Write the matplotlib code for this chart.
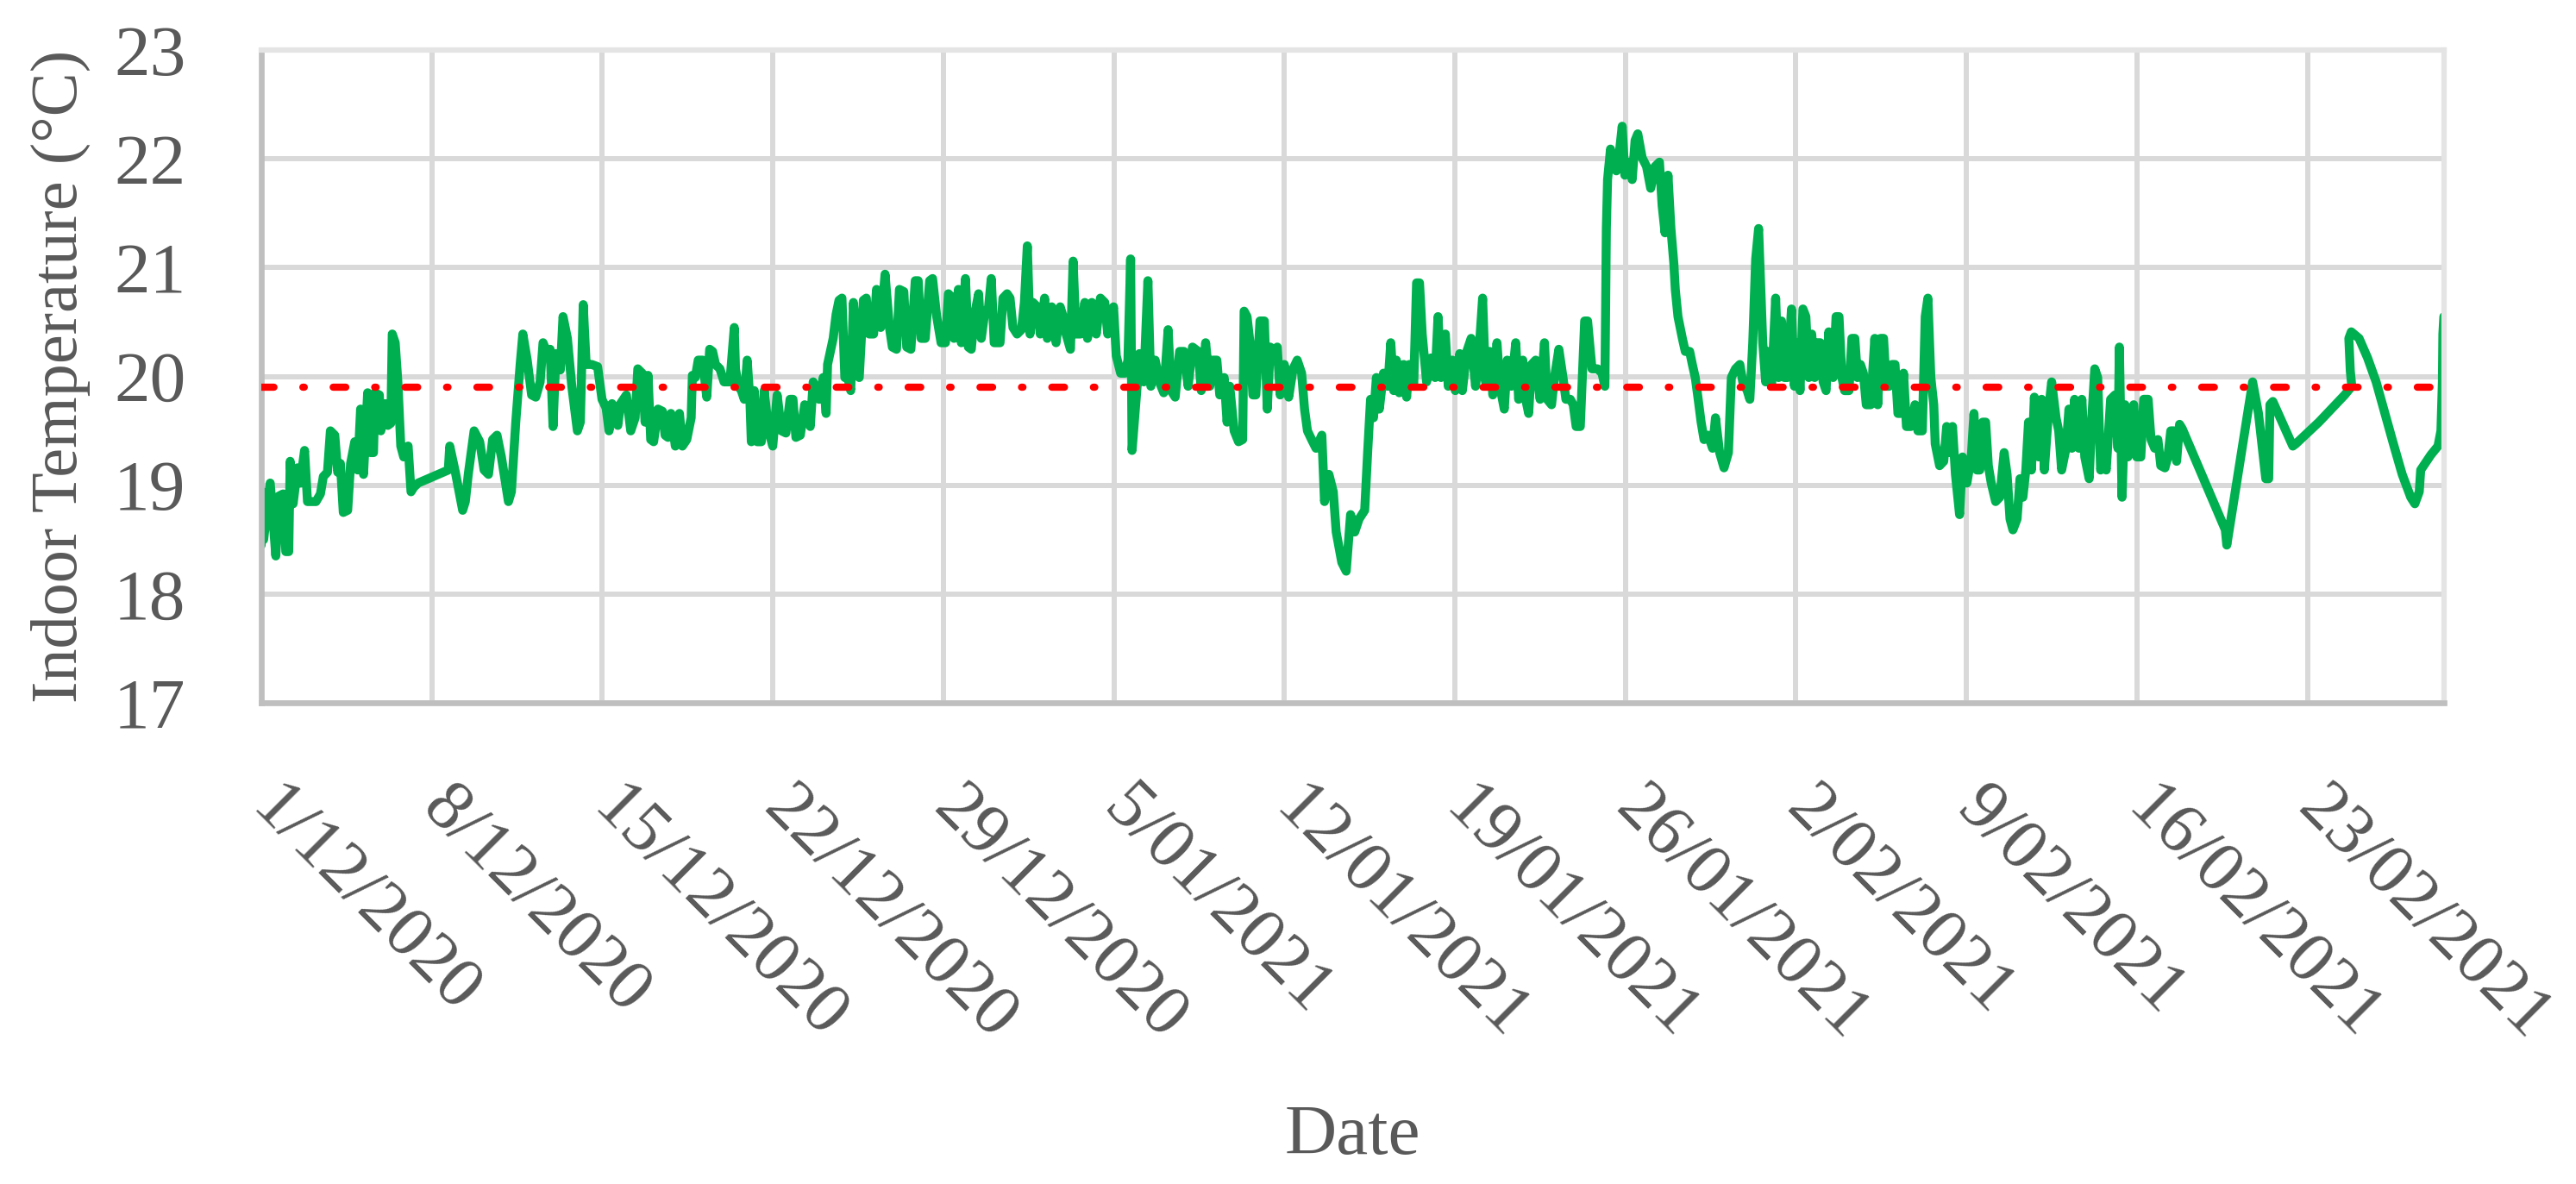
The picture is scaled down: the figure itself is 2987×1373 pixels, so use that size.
# Indoor temperature record, Dec 2020 - Feb 2021
import numpy as np
import matplotlib
matplotlib.use("Agg")
import matplotlib.pyplot as plt

plt.rcParams['font.family'] = ['Liberation Serif', 'DejaVu Serif']

# days counted from 1/12/2020, temperatures in degC
dec_days = [0.00, 0.05, 0.10, 0.37, 0.60, 0.72, 0.90, 1.01, 1.13, 1.19, 1.31, 1.49, 1.60, 1.78, 1.90,
            2.25, 2.43, 2.55, 2.72, 2.84, 3.02, 3.14, 3.25, 3.37, 3.55, 3.67, 3.84, 3.96, 4.08, 4.20,
            4.37, 4.49, 4.61, 4.67, 4.85, 4.91, 5.08, 5.20, 5.32, 5.38, 5.50, 5.61, 5.73, 5.85, 6.03,
            6.15, 6.26, 6.44, 7.68, 7.74, 7.97, 8.27, 8.38, 8.50, 8.74, 8.97, 9.15, 9.33, 9.50, 9.68,
            9.86, 10.15, 10.27, 10.45, 10.63, 10.74, 10.92, 11.10, 11.27, 11.45, 11.57, 11.75, 11.86,
            11.98, 12.10, 12.28, 12.39, 12.57, 12.75, 12.98, 13.10, 13.22, 13.34, 13.57, 13.81, 13.99,
            14.16, 14.28, 14.40, 14.64, 14.75, 14.99, 15.17, 15.35, 15.46, 15.64, 15.76, 15.88, 15.99,
            16.11, 16.29, 16.47, 16.58, 16.70, 16.82, 17.00, 17.17, 17.29, 17.47, 17.65, 17.70, 17.82,
            17.94, 18.12, 18.29, 18.41, 18.53, 18.65, 18.83, 19.00, 19.24, 19.42, 19.47, 19.59, 19.71,
            19.83, 19.95, 20.06, 20.12, 20.24, 20.36, 20.53, 20.65, 20.83, 21.00, 21.18, 21.36, 21.54,
            21.71, 21.83, 21.95, 22.13, 22.31, 22.54, 22.66, 22.90, 23.07, 23.19, 23.25, 23.48, 23.60,
            23.72, 23.84, 23.96, 24.08, 24.20, 24.31, 24.55, 24.72, 24.84, 24.96, 25.14, 25.26, 25.43,
            25.61, 25.79, 25.91, 26.08, 26.20, 26.38, 26.50, 26.67, 26.85, 26.97, 27.09, 27.26, 27.44,
            27.56, 27.73, 27.91, 28.09, 28.21, 28.38, 28.44, 28.62, 28.74, 28.91, 29.03, 29.15, 29.27,
            29.45, 29.56, 29.68, 29.86, 29.97, 30.09, 30.33, 30.45, 30.62, 30.74, 30.86]
dec_temp = [18.45, 18.94, 18.50, 19.02, 18.35, 18.90, 18.92, 18.39, 18.39, 19.22, 18.83, 19.16, 19.02, 19.32, 18.85,
            18.85, 18.92, 19.08, 19.12, 19.50, 19.46, 19.12, 19.20, 18.75, 18.77, 19.20, 19.40, 19.14, 19.70, 19.10,
            19.85, 19.30, 19.30, 19.85, 19.83, 19.50, 19.75, 19.55, 19.57, 20.39, 20.31, 19.95, 19.36, 19.26, 19.36,
            18.94, 18.98, 19.02, 19.14, 19.36, 19.12, 18.77, 18.85, 19.10, 19.50, 19.40, 19.14, 19.10, 19.42, 19.46,
            19.26, 18.85, 18.94, 19.58, 20.11, 20.39, 20.15, 19.83, 19.81, 19.95, 20.31, 20.21, 20.25,
            19.54, 20.21, 20.06, 20.55, 20.35, 19.91, 19.50, 19.58, 20.66, 20.11, 20.11, 20.09, 19.79,
            19.71, 19.50, 19.75, 19.55, 19.75, 19.83, 19.50, 19.62, 20.07, 20.03, 19.58, 20.01, 19.42,
            19.40, 19.70, 19.68, 19.46, 19.44, 19.66, 19.36, 19.66, 19.36, 19.42, 19.62, 20.01, 19.99,
            20.15, 20.15, 19.81, 20.25, 20.23, 20.11, 20.07, 19.95, 19.95, 20.45, 20.07, 19.91, 19.87,
            19.79, 20.15, 19.79, 19.40, 19.87, 19.40, 19.40, 19.87, 19.50, 19.36, 19.83, 19.50, 19.48,
            19.79, 19.79, 19.44, 19.46, 19.74, 19.54, 19.95, 19.79, 19.99, 19.66, 20.11, 20.35, 20.57,
            20.70, 20.72, 19.99, 19.99, 19.87, 20.68, 19.99, 20.70, 20.72, 20.39, 20.39, 20.80, 20.45,
            20.94, 20.45, 20.27, 20.25, 20.80, 20.78, 20.27, 20.25, 20.88, 20.88, 20.35, 20.35, 20.88,
            20.90, 20.55, 20.31, 20.31, 20.76, 20.72, 20.35, 20.80, 20.31, 20.90, 20.27, 20.25, 20.55,
            20.76, 20.35, 20.55, 20.64, 20.90, 20.31, 20.31, 20.72, 20.76, 20.72, 20.45]

jan_days = [31.03, 31.21, 31.33, 31.45, 31.56, 31.68, 31.86, 31.98, 32.16, 32.27, 32.45, 32.63, 32.80, 32.92,
            33.04, 33.22, 33.33, 33.45, 33.63, 33.81, 33.92, 34.10, 34.28, 34.45, 34.63, 34.75, 34.99, 35.10,
            35.28, 35.46, 35.58, 35.69, 35.75, 35.93, 36.05, 36.23, 36.40, 36.52, 36.70, 36.87, 37.05, 37.23,
            37.35, 37.52, 37.70, 37.88, 38.05, 38.23, 38.47, 38.59, 38.77, 38.94, 39.06, 39.23, 39.35, 39.53,
            39.65, 39.76, 39.94, 40.12, 40.29, 40.35, 40.47, 40.59, 40.71, 40.83, 41.00, 41.18, 41.30, 41.42,
            41.59, 41.71, 41.83, 42.00, 42.18, 42.36, 42.53, 42.71, 42.83, 42.95, 43.12, 43.30, 43.54, 43.65,
            43.83, 44.01, 44.13, 44.36, 44.54, 44.72, 44.89, 45.07, 45.30, 45.42, 45.54, 45.66, 45.78, 45.90,
            46.07, 46.25, 46.37, 46.49, 46.60, 46.72, 46.90, 47.02, 47.13, 47.31, 47.43, 47.55, 47.66, 47.84,
            48.02, 48.19, 48.31, 48.43, 48.61, 48.73, 48.90, 49.02, 49.20, 49.31, 49.49, 49.67, 49.85, 49.97,
            50.14, 50.26, 50.44, 50.56, 50.73, 50.85, 51.03, 51.15, 51.32, 51.50, 51.62, 51.79, 51.91, 52.03,
            52.15, 52.32, 52.50, 52.68, 52.79, 52.97, 53.09, 53.27, 53.44, 53.56, 53.74, 53.86, 53.98, 54.15,
            54.33, 54.45, 54.63, 54.86, 55.04, 55.16, 55.22, 55.27, 55.39, 55.51, 55.63, 55.75, 55.87, 55.98,
            56.16, 56.28, 56.40, 56.51, 56.69, 56.87, 57.04, 57.22, 57.40, 57.51, 57.63, 57.75, 57.87, 57.99,
            58.05, 58.16, 58.34, 58.46, 58.64, 58.75, 58.87, 58.99, 59.11, 59.23, 59.40, 59.58, 59.70, 59.87,
            60.05, 60.23, 60.35, 60.52, 60.70, 60.82, 61.00, 61.11, 61.23, 61.35, 61.47, 61.64, 61.76, 61.88]
jan_temp = [20.39, 20.43, 20.68, 21.20, 20.39, 20.68, 20.64, 20.39, 20.72, 20.35, 20.64, 20.31, 20.64, 20.55,
            20.39, 20.25, 21.06, 20.39, 20.39, 20.68, 20.35, 20.68, 20.39, 20.72, 20.68, 20.39, 20.64, 20.19,
            20.03, 20.03, 20.15, 21.08, 19.32, 19.83, 20.21, 19.95, 20.88, 19.91, 20.15, 19.95, 19.85, 20.43,
            19.87, 19.81, 20.23, 20.23, 19.91, 20.27, 20.23, 19.87, 20.31, 19.91, 20.15, 20.15, 19.83, 19.99,
            19.58, 19.91, 19.50, 19.40, 19.42, 20.60, 20.55, 20.31, 19.83, 19.83, 20.51, 20.51, 19.70, 20.27,
            20.19, 20.27, 19.83, 20.11, 19.81, 20.07, 20.15, 20.03, 19.70, 19.50, 19.42, 19.34, 19.46, 18.85,
            19.10, 18.94, 18.57, 18.29, 18.21, 18.73, 18.57, 18.69, 18.77, 19.30, 19.79, 19.62, 19.99, 19.70,
            20.03, 19.91, 20.31, 19.87, 20.15, 19.85, 20.11, 19.81, 20.11, 19.91, 20.86, 20.86, 20.39, 19.95,
            20.17, 19.99, 20.55, 19.99, 20.39, 19.91, 20.15, 19.87, 20.21, 19.87, 20.23, 20.35, 19.91, 20.15,
            20.72, 19.95, 20.23, 19.83, 20.31, 19.91, 19.70, 20.15, 19.91, 20.31, 19.79, 20.15, 19.79, 19.66,
            20.11, 20.15, 19.79, 20.31, 19.79, 19.74, 19.99, 20.25, 19.99, 19.79, 19.79, 19.74, 19.54, 19.54,
            20.51, 20.51, 20.07, 20.07, 20.03, 19.91, 21.36, 21.81, 22.09, 21.93, 21.89, 22.05, 22.30, 21.85,
            21.97, 21.81, 22.17, 22.23, 22.01, 21.93, 21.73, 21.93, 21.97, 21.57, 21.32, 21.85, 21.36, 21.04,
            20.80, 20.55, 20.35, 20.23, 20.23, 20.11, 19.99, 19.79, 19.58, 19.42, 19.46, 19.34, 19.62, 19.30,
            19.16, 19.30, 19.99, 20.07, 20.11, 19.95, 19.87, 19.79, 20.31, 21.08, 21.36, 20.31, 19.95, 20.23]

feb_days = [62.00, 62.17, 62.29, 62.41, 62.53, 62.65, 62.82, 62.94, 63.06, 63.17, 63.29, 63.41, 63.53, 63.65,
            63.77, 63.88, 64.00, 64.12, 64.24, 64.35, 64.53, 64.65, 64.77, 64.89, 65.00, 65.18, 65.30, 65.42,
            65.53, 65.65, 65.77, 65.89, 66.07, 66.24, 66.36, 66.48, 66.60, 66.71, 66.83, 66.95, 67.07, 67.19,
            67.30, 67.42, 67.54, 67.72, 67.89, 68.01, 68.19, 68.31, 68.42, 68.54, 68.66, 68.72, 68.90, 69.07,
            69.19, 69.31, 69.43, 69.55, 69.72, 69.84, 70.02, 70.20, 70.31, 70.43, 70.55, 70.67, 70.79, 70.90,
            71.02, 71.20, 71.37, 71.55, 71.67, 71.79, 71.91, 72.08, 72.20, 72.32, 72.44, 72.55, 72.67, 72.79,
            72.97, 73.09, 73.20, 73.38, 73.50, 73.68, 73.79, 73.91, 74.09, 74.21, 74.33, 74.44, 74.62, 74.74,
            74.86, 75.04, 75.15, 75.27, 75.39, 75.51, 75.63, 75.74, 75.92, 76.10, 76.22, 76.28, 76.39, 76.51,
            76.63, 76.75, 76.87, 76.99, 77.16, 77.28, 77.46, 77.58, 77.73, 77.86, 77.98, 78.15, 78.27, 78.39,
            78.51, 78.63, 78.75, 78.86, 80.63, 80.69, 81.75, 81.99, 82.29, 82.41, 82.46, 82.58, 83.40, 83.52,
            84.47, 85.53, 85.82, 85.76, 85.70, 85.80, 86.12, 86.47, 86.82, 87.18, 87.53, 87.89, 88.24, 88.41,
            88.59, 88.65, 88.83, 89.07, 89.36, 89.48, 89.54, 89.56, 89.60]
feb_temp = [19.91, 20.72, 19.99, 20.51, 19.99, 19.99, 20.62, 19.91, 20.31, 19.87, 20.62, 20.55, 19.99, 20.39,
            19.99, 20.31, 20.31, 19.95, 19.87, 20.41, 19.99, 20.55, 20.55, 19.99, 19.87, 19.87, 20.35, 20.35,
            19.99, 20.11, 20.03, 19.74, 19.74, 20.35, 19.74, 20.35, 20.35, 19.91, 19.91, 20.11, 20.11, 19.66,
            19.66, 20.03, 19.54, 19.54, 19.74, 19.50, 19.50, 20.55, 20.72, 19.99, 19.74, 19.38, 19.18, 19.22,
            19.54, 19.30, 19.54, 19.10, 18.73, 19.26, 19.02, 19.26, 19.66, 19.14, 19.14, 19.58, 19.58, 19.18,
            19.02, 18.85, 18.89, 19.30, 19.10, 18.69, 18.59, 18.69, 19.06, 18.89, 19.14, 19.58, 19.14, 19.81,
            19.26, 19.79, 19.14, 19.70, 19.95, 19.62, 19.50, 19.14, 19.34, 19.70, 19.34, 19.79, 19.34, 19.79,
            19.26, 19.06, 19.62, 20.07, 19.99, 19.14, 19.26, 19.14, 19.79, 19.83, 19.34, 20.27, 18.89, 19.74,
            19.26, 19.66, 19.74, 19.26, 19.26, 19.79, 19.79, 19.42, 19.34, 19.42, 19.18, 19.16, 19.26, 19.50,
            19.50, 19.22, 19.56, 19.52, 18.59, 18.45, 19.95, 19.66, 19.06, 19.06, 19.74, 19.77, 19.36, 19.38,
            19.58, 19.83, 19.91, 20.05, 20.35, 20.41, 20.35, 20.17, 19.95, 19.66, 19.38, 19.10, 18.89, 18.83,
            18.94, 19.14, 19.20, 19.28, 19.36, 19.50, 19.95, 20.39, 20.55]

setpoint = 19.9
tick_days = [0, 7, 14, 21, 28, 35, 42, 49, 56, 63, 70, 77, 84]
tick_labels = ['1/12/2020', '8/12/2020', '15/12/2020', '22/12/2020', '29/12/2020',
               '5/01/2021', '12/01/2021', '19/01/2021', '26/01/2021', '2/02/2021',
               '9/02/2021', '16/02/2021', '23/02/2021']
y_ticks = [17, 18, 19, 20, 21, 22, 23]

TEXT = '#595959'


def main():
    days = np.array(dec_days + jan_days + feb_days)
    temp = np.array(dec_temp + jan_temp + feb_temp)

    fig = plt.figure(figsize=(29.87, 13.73), dpi=100)
    ax = fig.add_axes([0.1014, 0.4064, 0.8473, 0.5513])

    ax.plot(days, temp, color='#00B050', lw=7.5,
            solid_joinstyle='round', solid_capstyle='round', zorder=2)
    ax.axhline(setpoint, color='#FF0000', lw=6, dashes=(1.76, 4.02, 0.2, 4.02),
               dash_capstyle='round', zorder=3)

    ax.set_xlim(0, 89.6)
    ax.set_ylim(17, 23)
    ax.set_yticks(y_ticks)
    ax.set_xticks(tick_days)
    ax.set_xticklabels(tick_labels, rotation=-45, ha='left', va='center',
                       rotation_mode='anchor')

    ax.grid(True, color='#D9D9D9', lw=4.3)
    ax.set_axisbelow(True)
    for side in ['left', 'bottom']:
        ax.spines[side].set_color('#BFBFBF')
        ax.spines[side].set_linewidth(4.8)
    for side in ['top', 'right']:
        ax.spines[side].set_color('#E4E4E4')
        ax.spines[side].set_linewidth(4.5)

    ax.tick_params(axis='x', length=0, pad=80, labelsize=60, labelcolor=TEXT)
    ax.tick_params(axis='y', length=0, pad=63, labelsize=60, labelcolor=TEXT)

    fig.text(0.0235, 0.682, 'Indoor Temperature (°C)', rotation=90,
             ha='center', va='center', fontsize=55, color=TEXT)
    fig.text(0.525, 0.0255, 'Date', ha='center', va='baseline',
             fontsize=60, color=TEXT)

    fig.savefig('out.png', dpi=100)


if __name__ == "__main__":
    main()
